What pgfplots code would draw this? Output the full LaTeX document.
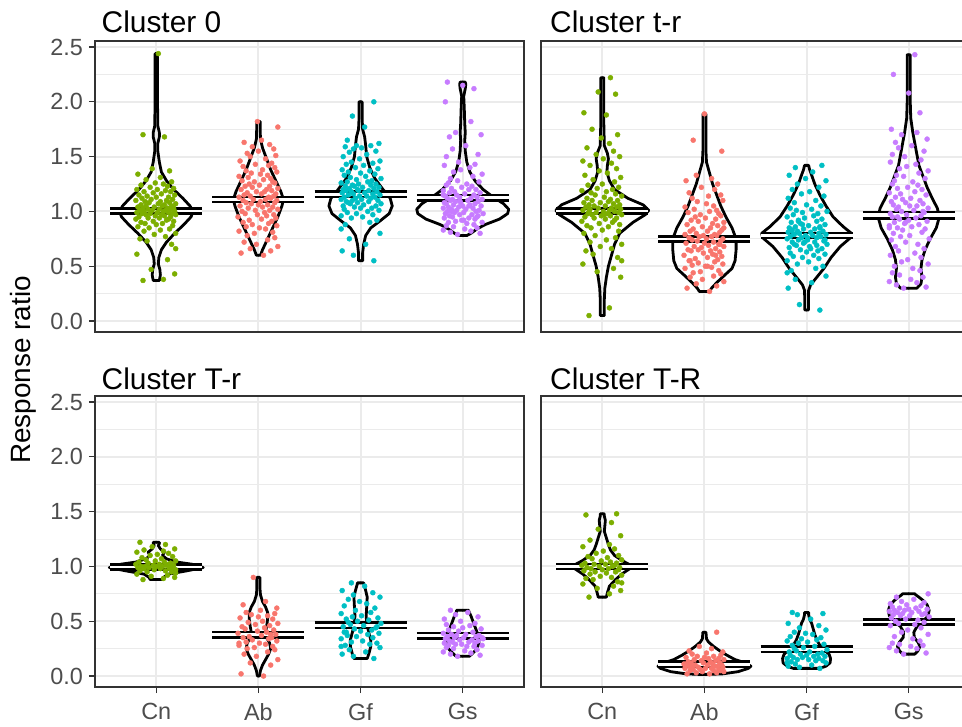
\documentclass[border=0pt]{standalone}
\usepackage{fontspec}
\setmainfont{Liberation Sans}
\usepackage{pgfplots}
\usepackage{pgfplotstable}
\pgfplotsset{compat=1.18}
\definecolor{cnC}{HTML}{7CAE00}
\definecolor{abC}{HTML}{F8766D}
\definecolor{gfC}{HTML}{00BFC4}
\definecolor{gsC}{HTML}{C77CFF}
\definecolor{grey20}{HTML}{333333}
\definecolor{grey30}{HTML}{4D4D4D}
\definecolor{grey92}{HTML}{EBEBEB}
\newcommand\ttlfont{\fontsize{30}{36}\selectfont}
\newcommand\tickfont{\fontsize{23.5}{28}\selectfont}
\newcommand\labfont{\fontsize{28}{34}\selectfont}

% ---------- jittered points: j,k = horizontal jitter; columns = response ratios
\pgfplotstableread{
j k Cn Ab Gf Gs
-0.13 0.05 0.37 0.60 0.55 0.79
0.07 -0.17 0.38 0.62 0.60 0.80
0.18 0.12 0.43 0.64 0.64 0.81
-0.05 -0.08 0.47 0.66 0.70 0.82
0.11 0.19 0.56 0.68 0.75 0.83
-0.19 -0.02 0.61 0.70 0.80 0.84
0.19 -0.14 0.66 0.72 0.84 0.85
0.15 0.09 0.70 0.74 0.88 0.86
-0.09 0.16 0.73 0.76 0.90 0.87
-0.16 -0.11 0.75 0.78 0.92 0.88
0.09 -0.04 0.77 0.80 0.94 0.89
-0.02 0.14 0.79 0.81 0.95 0.90
0.19 -0.19 0.80 0.82 0.96 0.90
-0.12 0.07 0.82 0.84 0.97 0.91
0.04 0.01 0.83 0.85 0.98 0.92
0.13 -0.12 0.84 0.86 0.99 0.93
-0.07 0.18 0.85 0.87 1.00 0.94
-0.18 -0.06 0.86 0.88 1.01 0.94
0.16 0.10 0.87 0.89 1.02 0.95
0.00 -0.15 0.88 0.90 1.03 0.96
-0.11 0.13 0.89 0.91 1.03 0.96
0.06 -0.09 0.89 0.92 1.04 0.97
-0.15 0.03 0.90 0.93 1.05 0.97
0.17 0.17 0.91 0.94 1.05 0.98
-0.03 -0.20 0.91 0.95 1.06 0.98
0.10 0.08 0.92 0.96 1.07 0.99
-0.20 -0.01 0.93 0.97 1.07 0.99
0.12 0.15 0.93 0.97 1.08 1.00
0.03 -0.13 0.94 0.98 1.08 1.00
-0.08 0.06 0.94 0.99 1.09 1.01
0.14 -0.16 0.95 1.00 1.09 1.01
-0.17 0.11 0.95 1.01 1.10 1.02
0.08 -0.03 0.96 1.01 1.10 1.02
-0.01 0.19 0.96 1.02 1.11 1.03
0.19 -0.10 0.97 1.03 1.11 1.03
-0.10 0.04 0.97 1.04 1.12 1.04
0.05 0.14 0.97 1.04 1.12 1.04
-0.14 -0.18 0.98 1.05 1.13 1.05
0.16 0.00 0.98 1.06 1.13 1.05
-0.06 0.09 0.98 1.06 1.14 1.06
0.01 -0.07 0.99 1.07 1.14 1.06
0.12 0.16 0.99 1.08 1.15 1.07
-0.19 -0.12 0.99 1.08 1.15 1.07
0.07 0.02 1.00 1.09 1.16 1.08
-0.12 0.18 1.00 1.10 1.16 1.08
0.18 -0.15 1.00 1.10 1.17 1.09
-0.04 0.07 1.01 1.11 1.17 1.09
0.09 -0.05 1.01 1.11 1.18 1.10
-0.16 0.12 1.01 1.12 1.18 1.10
0.14 -0.19 1.02 1.13 1.19 1.11
-0.08 0.10 1.02 1.13 1.19 1.11
0.03 -0.08 1.02 1.14 1.20 1.12
0.17 0.15 1.03 1.14 1.20 1.12
-0.13 -0.14 1.03 1.15 1.21 1.13
0.11 0.03 1.03 1.16 1.21 1.13
-0.02 0.17 1.04 1.16 1.22 1.14
-0.18 -0.11 1.04 1.17 1.22 1.15
0.06 0.06 1.05 1.18 1.23 1.15
0.15 -0.02 1.05 1.18 1.23 1.16
-0.10 0.13 1.05 1.19 1.24 1.17
0.08 -0.17 1.06 1.20 1.24 1.17
-0.15 0.08 1.06 1.20 1.25 1.18
0.02 0.19 1.07 1.21 1.25 1.19
0.19 -0.06 1.07 1.22 1.26 1.20
-0.07 -0.13 1.08 1.23 1.27 1.20
0.13 0.11 1.08 1.23 1.27 1.21
-0.11 0.01 1.09 1.24 1.28 1.22
0.04 -0.09 1.09 1.25 1.29 1.23
-0.20 0.16 1.10 1.26 1.30 1.24
0.10 -0.04 1.10 1.27 1.31 1.25
-0.05 0.14 1.11 1.27 1.32 1.26
0.16 -0.16 1.11 1.28 1.33 1.27
-0.14 0.05 1.12 1.29 1.34 1.28
0.00 0.12 1.13 1.30 1.35 1.30
0.12 -0.10 1.13 1.31 1.36 1.32
-0.09 -0.19 1.14 1.32 1.37 1.34
0.18 0.09 1.15 1.33 1.38 1.36
-0.17 0.02 1.15 1.34 1.39 1.38
0.05 -0.07 1.16 1.35 1.40 1.40
-0.03 0.18 1.17 1.36 1.42 1.42
0.14 -0.12 1.18 1.37 1.43 1.43
-0.12 0.04 1.18 1.38 1.44 1.45
0.09 0.16 1.19 1.40 1.45 1.50
-0.19 -0.15 1.20 1.41 1.46 1.52
0.01 0.10 1.20 1.42 1.48 1.57
0.17 -0.03 1.21 1.43 1.50 1.60
-0.06 0.13 1.22 1.44 1.52 1.68
0.11 -0.18 1.23 1.46 1.54 1.70
-0.15 0.07 1.24 1.48 1.55 1.72
0.07 -0.08 1.25 1.50 1.57 1.82
-0.01 0.17 1.26 1.51 1.58 2.00
0.15 -0.11 1.27 1.53 1.59 2.12
-0.10 0.00 1.29 1.55 1.60 2.15
0.04 0.15 1.31 1.57 1.60 2.18
-0.18 -0.06 1.34 1.59 1.62 1.05
0.13 0.11 1.37 1.61 1.65 1.00
-0.04 -0.14 1.39 1.63 1.77 0.95
0.08 0.03 1.68 1.65 1.87 1.10
-0.13 0.19 1.70 1.77 2.00 1.15
0.02 -0.01 2.44 1.82 1.19 0.92
}\ptsTL

\pgfplotstableread{
j k Cn Ab Gf Gs
-0.13 0.05 0.05 0.27 0.10 0.30
0.07 -0.17 0.12 0.30 0.15 0.31
0.18 0.12 0.40 0.32 0.30 0.33
-0.05 -0.08 0.45 0.34 0.35 0.35
0.11 0.19 0.48 0.36 0.38 0.36
-0.19 -0.02 0.52 0.38 0.41 0.38
0.19 -0.14 0.55 0.40 0.44 0.40
0.15 0.09 0.58 0.41 0.46 0.42
-0.09 0.16 0.61 0.43 0.48 0.44
-0.16 -0.11 0.64 0.44 0.50 0.46
0.09 -0.04 0.66 0.45 0.52 0.48
-0.02 0.14 0.68 0.46 0.54 0.50
0.19 -0.19 0.70 0.48 0.55 0.52
-0.12 0.07 0.72 0.49 0.57 0.54
0.04 0.01 0.74 0.50 0.58 0.56
0.13 -0.12 0.76 0.51 0.59 0.58
-0.07 0.18 0.78 0.52 0.60 0.60
-0.18 -0.06 0.80 0.53 0.61 0.62
0.16 0.10 0.82 0.54 0.62 0.64
0.00 -0.15 0.83 0.55 0.63 0.66
-0.11 0.13 0.85 0.56 0.64 0.68
0.06 -0.09 0.86 0.57 0.65 0.70
-0.15 0.03 0.87 0.58 0.66 0.72
0.17 0.17 0.88 0.59 0.67 0.74
-0.03 -0.20 0.89 0.60 0.68 0.75
0.10 0.08 0.90 0.61 0.69 0.77
-0.20 -0.01 0.91 0.62 0.70 0.78
0.12 0.15 0.92 0.63 0.70 0.80
0.03 -0.13 0.93 0.64 0.71 0.81
-0.08 0.06 0.94 0.64 0.72 0.83
0.14 -0.16 0.94 0.65 0.72 0.84
-0.17 0.11 0.95 0.66 0.73 0.85
0.08 -0.03 0.96 0.67 0.74 0.86
-0.01 0.19 0.96 0.68 0.74 0.87
0.19 -0.10 0.97 0.68 0.75 0.88
-0.10 0.04 0.97 0.69 0.76 0.89
0.05 0.14 0.98 0.70 0.76 0.90
-0.14 -0.18 0.98 0.71 0.77 0.91
0.16 0.00 0.99 0.71 0.77 0.92
-0.06 0.09 0.99 0.72 0.78 0.93
0.01 -0.07 1.00 0.73 0.78 0.94
0.12 0.16 1.00 0.73 0.79 0.95
-0.19 -0.12 1.01 0.74 0.79 0.96
0.07 0.02 1.01 0.75 0.80 0.97
-0.12 0.18 1.02 0.75 0.80 0.98
0.18 -0.15 1.02 0.76 0.81 0.99
-0.04 0.07 1.03 0.77 0.81 1.00
0.09 -0.05 1.03 0.77 0.82 1.01
-0.16 0.12 1.04 0.78 0.82 1.02
0.14 -0.19 1.04 0.79 0.83 1.03
-0.08 0.10 1.05 0.79 0.84 1.04
0.03 -0.08 1.05 0.80 0.84 1.05
0.17 0.15 1.06 0.81 0.85 1.06
-0.13 -0.14 1.06 0.82 0.86 1.07
0.11 0.03 1.07 0.82 0.86 1.08
-0.02 0.17 1.08 0.83 0.87 1.09
-0.18 -0.11 1.08 0.84 0.88 1.10
0.06 0.06 1.09 0.85 0.89 1.11
0.15 -0.02 1.10 0.86 0.90 1.12
-0.10 0.13 1.10 0.87 0.91 1.13
0.08 -0.17 1.11 0.88 0.92 1.15
-0.15 0.08 1.12 0.89 0.93 1.16
0.02 0.19 1.13 0.90 0.94 1.17
0.19 -0.06 1.14 0.91 0.95 1.18
-0.07 -0.13 1.15 0.92 0.96 1.20
0.13 0.11 1.16 0.93 0.97 1.21
-0.11 0.01 1.17 0.94 0.98 1.22
0.04 -0.09 1.18 0.95 0.99 1.24
-0.20 0.16 1.19 0.96 1.00 1.25
0.10 -0.04 1.20 0.97 1.01 1.27
-0.05 0.14 1.21 0.98 1.02 1.28
0.16 -0.16 1.22 0.99 1.03 1.30
-0.14 0.05 1.24 1.00 1.05 1.32
0.00 0.12 1.25 1.01 1.06 1.33
0.12 -0.10 1.27 1.02 1.08 1.35
-0.09 -0.19 1.29 1.04 1.10 1.37
0.18 0.09 1.31 1.05 1.12 1.39
-0.17 0.02 1.33 1.07 1.14 1.41
0.05 -0.07 1.35 1.09 1.16 1.43
-0.03 0.18 1.37 1.10 1.18 1.45
0.14 -0.12 1.39 1.12 1.20 1.47
-0.12 0.04 1.42 1.14 1.22 1.50
0.09 0.16 1.44 1.15 1.25 1.52
-0.19 -0.15 1.46 1.17 1.28 1.55
0.01 0.10 1.48 1.20 1.30 1.58
0.17 -0.03 1.50 1.22 1.33 1.60
-0.06 0.13 1.52 1.25 1.36 1.63
0.11 -0.18 1.55 1.28 1.40 1.66
-0.15 0.07 1.58 1.30 1.42 1.70
0.07 -0.08 1.62 1.33 0.80 1.72
-0.01 0.17 1.67 1.55 0.76 1.75
0.15 -0.11 1.70 1.65 0.83 1.90
-0.10 0.00 1.75 1.89 0.69 2.08
0.04 0.15 1.88 0.70 0.88 2.25
-0.18 -0.06 1.90 0.65 0.74 2.43
0.13 0.11 2.07 0.60 0.79 0.95
-0.04 -0.14 2.09 0.55 0.66 1.00
0.08 0.03 2.22 0.50 0.91 0.90
-0.13 0.19 1.00 0.85 0.85 0.85
0.02 -0.01 0.97 0.78 0.72 1.05
}\ptsTR

\pgfplotstableread{
j k Cn Ab Gf Gs
-0.13 0.05 0.88 0.00 0.16 0.18
0.07 -0.17 0.89 0.02 0.18 0.19
0.18 0.12 0.90 0.10 0.20 0.20
-0.05 -0.08 0.91 0.12 0.22 0.21
0.11 0.19 0.92 0.15 0.24 0.22
-0.19 -0.02 0.93 0.18 0.26 0.23
0.19 -0.14 0.94 0.20 0.27 0.24
0.15 0.09 0.95 0.22 0.28 0.25
-0.09 0.16 0.95 0.24 0.29 0.26
-0.16 -0.11 0.96 0.25 0.30 0.27
0.09 -0.04 0.96 0.26 0.31 0.27
-0.02 0.14 0.97 0.27 0.32 0.28
0.19 -0.19 0.97 0.28 0.34 0.28
-0.12 0.07 0.98 0.29 0.35 0.29
0.04 0.01 0.98 0.30 0.36 0.29
0.13 -0.12 0.98 0.31 0.37 0.30
-0.07 0.18 0.99 0.32 0.38 0.30
-0.18 -0.06 0.99 0.33 0.39 0.31
0.16 0.10 0.99 0.34 0.40 0.31
0.00 -0.15 1.00 0.35 0.41 0.32
-0.11 0.13 1.00 0.35 0.42 0.32
0.06 -0.09 1.00 0.36 0.43 0.33
-0.15 0.03 1.00 0.37 0.44 0.33
0.17 0.17 1.01 0.38 0.45 0.34
-0.03 -0.20 1.01 0.39 0.46 0.34
0.10 0.08 1.01 0.40 0.47 0.35
-0.20 -0.01 1.02 0.41 0.48 0.35
0.12 0.15 1.02 0.42 0.49 0.36
0.03 -0.13 1.02 0.43 0.50 0.36
-0.08 0.06 1.03 0.44 0.51 0.37
0.14 -0.16 1.03 0.45 0.52 0.37
-0.17 0.11 1.04 0.46 0.53 0.38
0.08 -0.03 1.04 0.47 0.54 0.38
-0.01 0.19 1.05 0.48 0.55 0.39
0.19 -0.10 1.05 0.49 0.57 0.40
-0.10 0.04 1.06 0.50 0.58 0.41
0.05 0.14 1.07 0.52 0.60 0.42
-0.14 -0.18 1.08 0.53 0.62 0.43
0.16 0.00 1.09 0.54 0.64 0.44
-0.06 0.09 1.10 0.55 0.66 0.45
0.01 -0.07 1.11 0.56 0.68 0.46
0.12 0.16 1.12 0.57 0.70 0.47
-0.19 -0.12 1.13 0.58 0.72 0.48
0.07 0.02 1.14 0.60 0.74 0.50
-0.12 0.18 1.15 0.62 0.76 0.52
0.18 -0.15 1.16 0.65 0.78 0.54
-0.04 0.07 1.18 0.68 0.82 0.56
0.09 -0.05 1.20 0.90 0.85 0.58
-0.16 0.12 1.22 0.38 0.45 0.60
0.14 -0.19 1.00 0.30 0.40 0.35
}\ptsBL

\pgfplotstableread{
j k Cn Ab Gf Gs
-0.13 0.05 0.72 0.02 0.07 0.20
0.07 -0.17 0.75 0.02 0.08 0.21
0.18 0.12 0.78 0.03 0.09 0.23
-0.05 -0.08 0.80 0.03 0.10 0.25
0.11 0.19 0.82 0.04 0.11 0.26
-0.19 -0.02 0.84 0.04 0.12 0.27
0.19 -0.14 0.85 0.05 0.12 0.28
0.15 0.09 0.86 0.05 0.13 0.29
-0.09 0.16 0.88 0.05 0.14 0.30
-0.16 -0.11 0.89 0.06 0.14 0.32
0.09 -0.04 0.90 0.06 0.15 0.34
-0.02 0.14 0.91 0.06 0.15 0.36
0.19 -0.19 0.92 0.07 0.16 0.38
-0.12 0.07 0.93 0.07 0.16 0.40
0.04 0.01 0.94 0.07 0.17 0.42
0.13 -0.12 0.95 0.08 0.17 0.44
-0.07 0.18 0.95 0.08 0.18 0.46
-0.18 -0.06 0.96 0.08 0.18 0.47
0.16 0.10 0.97 0.09 0.19 0.48
0.00 -0.15 0.97 0.09 0.19 0.49
-0.11 0.13 0.98 0.09 0.20 0.50
0.06 -0.09 0.98 0.10 0.20 0.51
-0.15 0.03 0.99 0.10 0.21 0.52
0.17 0.17 0.99 0.10 0.22 0.53
-0.03 -0.20 1.00 0.11 0.22 0.54
0.10 0.08 1.00 0.11 0.23 0.55
-0.20 -0.01 1.01 0.12 0.24 0.55
0.12 0.15 1.01 0.12 0.25 0.56
0.03 -0.13 1.02 0.12 0.26 0.56
-0.08 0.06 1.02 0.13 0.27 0.57
0.14 -0.16 1.03 0.13 0.28 0.57
-0.17 0.11 1.03 0.14 0.29 0.58
0.08 -0.03 1.04 0.14 0.30 0.58
-0.01 0.19 1.05 0.15 0.31 0.59
0.19 -0.10 1.06 0.15 0.32 0.59
-0.10 0.04 1.07 0.16 0.33 0.60
0.05 0.14 1.08 0.16 0.34 0.60
-0.14 -0.18 1.09 0.17 0.35 0.61
0.16 0.00 1.10 0.17 0.36 0.61
-0.06 0.09 1.12 0.18 0.38 0.62
0.01 -0.07 1.14 0.18 0.39 0.62
0.12 0.16 1.16 0.19 0.40 0.63
-0.19 -0.12 1.18 0.20 0.42 0.64
0.07 0.02 1.20 0.21 0.44 0.65
-0.12 0.18 1.24 0.22 0.46 0.66
0.18 -0.15 1.28 0.23 0.48 0.67
-0.04 0.07 1.34 0.25 0.52 0.68
0.09 -0.05 1.40 0.27 0.56 0.70
-0.16 0.12 1.47 0.40 0.57 0.72
0.14 -0.19 1.48 0.10 0.58 0.75
}\ptsBR

% ---------- violin outlines: y and half-width w
\pgfplotstableread{
y w
0.37 0
0.37 0.03
0.42 0.04
0.47 0.035
0.52 0.02
0.58 0.025
0.65 0.05
0.72 0.10
0.80 0.18
0.88 0.27
0.95 0.34
1.00 0.36
1.05 0.33
1.12 0.26
1.20 0.17
1.28 0.10
1.36 0.05
1.45 0.03
1.55 0.015
1.62 0.015
1.68 0.03
1.72 0.03
1.78 0.015
2.00 0.012
2.44 0.012
2.44 0
}\vTLCn
\pgfplotstableread{
y w
0.60 0
0.60 0.02
0.65 0.04
0.75 0.09
0.85 0.14
0.95 0.19
1.05 0.23
1.11 0.245
1.18 0.22
1.28 0.17
1.38 0.12
1.48 0.08
1.58 0.04
1.66 0.02
1.75 0.017
1.82 0.017
1.82 0
}\vTLAb
\pgfplotstableread{
y w
0.55 0
0.55 0.02
0.62 0.02
0.70 0.03
0.78 0.05
0.85 0.10
0.92 0.20
0.98 0.28
1.05 0.31
1.12 0.29
1.20 0.22
1.30 0.14
1.40 0.09
1.50 0.06
1.60 0.05
1.68 0.04
1.75 0.02
1.85 0.015
2.00 0.015
2.00 0
}\vTLGf
\pgfplotstableread{
y w
0.78 0
0.78 0.04
0.80 0.08
0.84 0.14
0.88 0.22
0.93 0.36
0.98 0.44
1.02 0.45
1.07 0.40
1.13 0.30
1.20 0.20
1.28 0.12
1.36 0.07
1.45 0.04
1.55 0.025
1.65 0.02
1.72 0.025
1.80 0.02
1.95 0.015
2.05 0.01
2.12 0.025
2.16 0.03
2.18 0.025
2.18 0
}\vTLGs
\pgfplotstableread{
y w
0.05 0
0.05 0.02
0.20 0.02
0.30 0.025
0.40 0.04
0.50 0.06
0.60 0.09
0.70 0.12
0.80 0.17
0.90 0.30
0.97 0.42
1.01 0.455
1.06 0.40
1.12 0.25
1.20 0.12
1.28 0.07
1.36 0.045
1.42 0.05
1.48 0.06
1.53 0.05
1.60 0.02
1.80 0.015
2.22 0.015
2.22 0
}\vTRCn
\pgfplotstableread{
y w
0.27 0
0.27 0.05
0.30 0.07
0.35 0.12
0.42 0.20
0.48 0.27
0.55 0.30
0.65 0.31
0.75 0.31
0.85 0.27
0.95 0.21
1.05 0.16
1.15 0.12
1.25 0.08
1.35 0.05
1.45 0.02
1.55 0.015
1.89 0.015
1.89 0
}\vTRAb
\pgfplotstableread{
y w
0.10 0
0.10 0.018
0.20 0.018
0.28 0.02
0.33 0.04
0.40 0.10
0.48 0.17
0.58 0.24
0.68 0.33
0.76 0.43
0.80 0.44
0.86 0.36
0.95 0.26
1.05 0.19
1.15 0.13
1.25 0.08
1.33 0.05
1.38 0.03
1.42 0.02
1.42 0
}\vTRGf
\pgfplotstableread{
y w
0.30 0
0.30 0.08
0.34 0.12
0.40 0.13
0.48 0.12
0.56 0.13
0.65 0.16
0.75 0.21
0.85 0.27
0.95 0.30
1.03 0.28
1.12 0.23
1.22 0.18
1.32 0.14
1.42 0.10
1.52 0.08
1.62 0.06
1.72 0.04
1.85 0.02
2.00 0.015
2.43 0.015
2.43 0
}\vTRGs
\pgfplotstableread{
y w
0.88 0
0.88 0.06
0.90 0.07
0.93 0.12
0.96 0.30
0.99 0.46
1.02 0.35
1.04 0.20
1.07 0.10
1.10 0.06
1.13 0.08
1.16 0.04
1.19 0.02
1.21 0.03
1.22 0.03
1.22 0
}\vBLCn
\pgfplotstableread{
y w
0.00 0
0.00 0.01
0.05 0.02
0.10 0.04
0.15 0.07
0.20 0.10
0.25 0.12
0.30 0.11
0.35 0.08
0.40 0.07
0.45 0.08
0.52 0.09
0.58 0.09
0.63 0.07
0.68 0.04
0.74 0.02
0.80 0.015
0.90 0.015
0.90 0
}\vBLAb
\pgfplotstableread{
y w
0.16 0
0.16 0.065
0.20 0.08
0.27 0.10
0.33 0.10
0.40 0.08
0.48 0.06
0.55 0.055
0.63 0.06
0.72 0.065
0.78 0.05
0.83 0.035
0.85 0.03
0.85 0
}\vBLGf
\pgfplotstableread{
y w
0.18 0
0.18 0.065
0.21 0.10
0.25 0.14
0.30 0.16
0.35 0.16
0.40 0.14
0.45 0.12
0.50 0.10
0.55 0.08
0.59 0.06
0.60 0.06
0.60 0
}\vBLGs
\pgfplotstableread{
y w
0.72 0
0.72 0.04
0.76 0.05
0.82 0.07
0.88 0.13
0.93 0.19
0.98 0.27
1.01 0.28
1.05 0.20
1.10 0.12
1.15 0.08
1.20 0.06
1.26 0.04
1.32 0.02
1.37 0.025
1.42 0.03
1.46 0.02
1.48 0.02
1.48 0
}\vBRCn
\pgfplotstableread{
y w
0.015 0
0.015 0.05
0.02 0.18
0.04 0.33
0.07 0.43
0.09 0.455
0.12 0.40
0.15 0.30
0.19 0.22
0.23 0.15
0.27 0.09
0.31 0.04
0.34 0.02
0.40 0.015
0.40 0
}\vBRAb
\pgfplotstableread{
y w
0.07 0
0.07 0.13
0.09 0.19
0.12 0.23
0.16 0.235
0.20 0.22
0.24 0.17
0.28 0.13
0.33 0.10
0.38 0.08
0.43 0.065
0.48 0.05
0.52 0.03
0.56 0.02
0.58 0.02
0.58 0
}\vBRGf
\pgfplotstableread{
y w
0.20 0
0.20 0.06
0.23 0.09
0.27 0.11
0.31 0.09
0.35 0.055
0.40 0.05
0.45 0.08
0.50 0.14
0.55 0.19
0.60 0.20
0.65 0.18
0.69 0.14
0.72 0.10
0.74 0.07
0.75 0.06
0.75 0
}\vBRGs

\pgfplotsset{
  panel/.style={
    scale only axis, width=429bp, height=291bp,
    anchor=south west,
    xmin=0.4, xmax=4.6, ymin=-0.1, ymax=2.555,
    axis line style={draw=grey20, line width=1.1bp},
    xtick={1,2,3,4}, xticklabels={Cn,Ab,Gf,Gs},
    ytick={0,0.5,1,1.5,2,2.5},
    yticklabels={0.0,0.5,1.0,1.5,2.0,2.5},
    minor ytick={0.25,0.75,1.25,1.75,2.25},
    xtick pos=bottom, ytick pos=left,
    xmajorgrids, ymajorgrids, yminorgrids,
    major grid style={draw=grey92, line width=2bp},
    minor grid style={draw=grey92, line width=1bp},
    tick align=outside, major tick length=6bp, minor tick length=0pt,
    major tick style={draw=grey20, line width=1.1bp},
    ticklabel style={font=\tickfont, text=grey30},
    yticklabel style={inner sep=0pt, xshift=-6bp},
    xticklabel style={inner sep=0pt, yshift=-10bp},
  },
  notop/.style={xticklabels={}, xtick style={draw=none}},
  noleft/.style={yticklabels={}, ytick style={draw=none}},
  vstyle/.style={black, line width=2.8bp, line join=round, line cap=round},
  cbstyle/.style={black, line width=2.4bp},
  ptstyle/.style={only marks, mark=*, mark size=2.5bp},
}
\newcommand\vio[2]{%
  \addplot[vstyle] table[x expr=#1+\thisrow{w}, y=y] {#2};
  \addplot[vstyle] table[x expr=#1-\thisrow{w}, y=y] {#2};}
\newcommand\cb[4]{%
  \addplot[fill=white, draw=none] coordinates {(#1,#3) (#2,#3) (#2,#4) (#1,#4)};
  \addplot[cbstyle] coordinates {(#1,#3) (#2,#3)};
  \addplot[cbstyle] coordinates {(#1,#4) (#2,#4)};}
\newcommand\pts[1]{%
  \addplot[ptstyle, color=cnC] table[x expr=1+\thisrow{j}, y=Cn] {#1};
  \addplot[ptstyle, color=abC] table[x expr=2+\thisrow{k}, y=Ab] {#1};
  \addplot[ptstyle, color=gfC] table[x expr=3-\thisrow{j}, y=Gf] {#1};
  \addplot[ptstyle, color=gsC] table[x expr=4-\thisrow{k}, y=Gs] {#1};}

\begin{document}
\begin{tikzpicture}
\useasboundingbox (0,0) rectangle (962bp,727bp);
% Cluster 0
\begin{axis}[panel, notop, at={(95bp,395bp)}]
\pts{\ptsTL}
\vio{1}{\vTLCn}\vio{2}{\vTLAb}\vio{3}{\vTLGf}\vio{4}{\vTLGs}
\cb{0.55}{1.45}{0.980}{1.026}
\cb{1.55}{2.45}{1.085}{1.131}
\cb{2.55}{3.45}{1.134}{1.180}
\cb{3.55}{4.45}{1.100}{1.148}
\end{axis}
% Cluster t-r
\begin{axis}[panel, notop, noleft, at={(541bp,395bp)}]
\pts{\ptsTR}
\vio{1}{\vTRCn}\vio{2}{\vTRAb}\vio{3}{\vTRGf}\vio{4}{\vTRGs}
\cb{0.55}{1.45}{0.982}{1.028}
\cb{1.55}{2.45}{0.725}{0.771}
\cb{2.55}{3.45}{0.757}{0.803}
\cb{3.55}{4.45}{0.937}{0.995}
\end{axis}
% Cluster T-r
\begin{axis}[panel, at={(95bp,40bp)}]
\pts{\ptsBL}
\vio{1}{\vBLCn}\vio{2}{\vBLAb}\vio{3}{\vBLGf}\vio{4}{\vBLGs}
\cb{0.55}{1.45}{0.972}{1.018}
\cb{1.55}{2.45}{0.350}{0.400}
\cb{2.55}{3.45}{0.440}{0.490}
\cb{3.55}{4.45}{0.344}{0.390}
\end{axis}
% Cluster T-R
\begin{axis}[panel, noleft, at={(541bp,40bp)}]
\pts{\ptsBR}
\vio{1}{\vBRCn}\vio{2}{\vBRAb}\vio{3}{\vBRGf}\vio{4}{\vBRGs}
\cb{0.55}{1.45}{0.977}{1.023}
\cb{1.55}{2.45}{0.085}{0.131}
\cb{2.55}{3.45}{0.222}{0.268}
\cb{3.55}{4.45}{0.470}{0.515}
\end{axis}
\node[anchor=base west, inner sep=0pt, font=\ttlfont] at (101.5bp,694bp) {Cluster 0};
\node[anchor=base west, inner sep=0pt, font=\ttlfont] at (550bp,694bp) {Cluster t-r};
\node[anchor=base west, inner sep=0pt, font=\ttlfont] at (101.5bp,337bp) {Cluster T-r};
\node[anchor=base west, inner sep=0pt, font=\ttlfont] at (550bp,337bp) {Cluster T-R};
\node[rotate=90, inner sep=0pt, font=\labfont] at (23bp,357bp) {Response ratio};
\end{tikzpicture}
\end{document}
